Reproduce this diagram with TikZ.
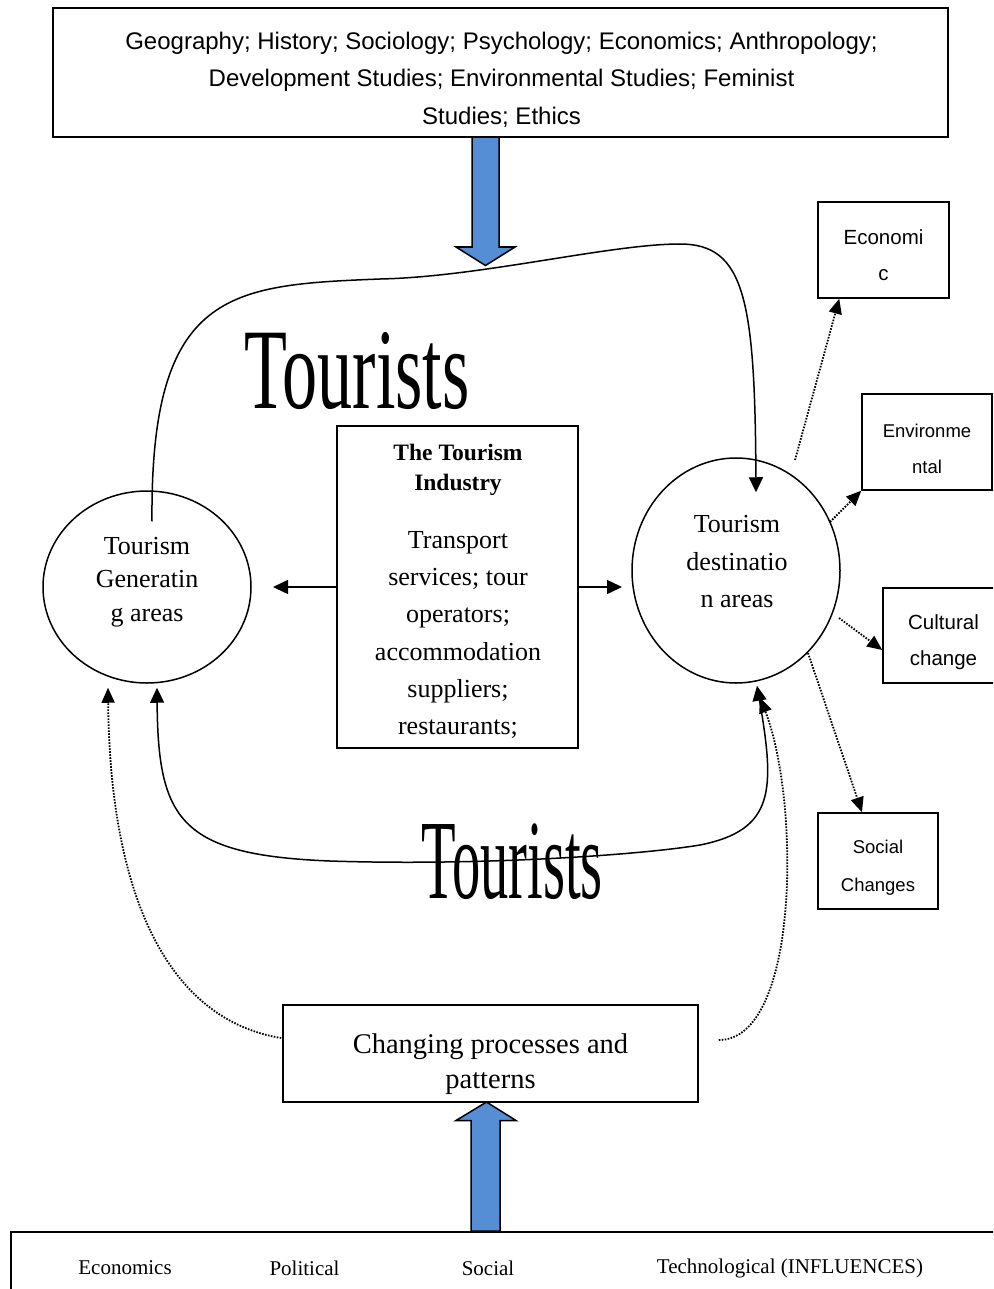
\documentclass[tikz,border=0pt]{standalone}
\usepackage{fontspec}
\setmainfont{Liberation Serif}
\newfontfamily\arialf{Liberation Sans}
\usetikzlibrary{arrows.meta,shapes.geometric,calc}
\definecolor{arrowblue}{RGB}{85,142,213}
\tikzset{
  box/.style={draw, line width=1.5pt, rectangle, inner sep=0pt},
  oval/.style={draw, ellipse, line width=1.5pt, inner sep=0pt},
  conn/.style={line width=1.5pt, -{Triangle[length=15pt,width=14pt]}},
  dconn/.style={line width=1.5pt, {Triangle[length=15pt,width=14pt]}-{Triangle[length=15pt,width=14pt]}},
  dotline/.style={line width=1.8pt, dash pattern=on 1.6pt off 1.4pt, -{Triangle[length=15pt,width=13pt]}},
  blockarrow/.style={fill=arrowblue, draw=black, line width=1.5pt, line join=miter},
  txt/.style={inner sep=0pt, align=center},
  sans/.style={txt, font=\arialf\fontsize{#1}{36}\selectfont},
}
\begin{document}
\begin{tikzpicture}[x=1pt,y=-1pt]
\useasboundingbox (0,0) rectangle (993,1289);
\clip (0,0) rectangle (993,1289);

% blue block arrows
\draw[blockarrow] (472,137) -- (472,247) -- (456,247) -- (485.5,265.5) -- (515,247) -- (499,247) -- (499,137) -- cycle;
\draw[blockarrow] (471,1231) -- (471,1120.5) -- (456,1120.5) -- (486.5,1102) -- (516,1120.5) -- (500,1120.5) -- (500,1231) -- cycle;

% top box
\node[box, line width=2.5pt, minimum width=895pt, minimum height=129pt] (top) at (500.5,72.5) {};
\node[txt, font=\arialf\fontsize{24}{37.5}\selectfont] (toptext) at (501.5,79.5)
  {Geography; History; Sociology; Psychology; Economics; Anthropology;\\Development Studies; Environmental Studies; Feminist\\Studies; Ethics};

% industry box
\node[box, minimum width=241pt, minimum height=322pt] (ind) at (457.5,587) {};
\node[txt, font=\bfseries\fontsize{23.5}{30}\selectfont] (indtitle) at (458,470) {The Tourism\\Industry};
\node[txt, font=\fontsize{26}{37.2}\selectfont] (indbody) at (458,635)
  {Transport\\services; tour\\operators;\\accommodation\\suppliers;\\restaurants;};

% circles
\node[oval, minimum width=208pt, minimum height=192pt] (gen) at (147,587) {};
\node[txt, font=\fontsize{26}{33.3}\selectfont] (gentext) at (147,582) {Tourism\\Generatin\\g areas};
\node[oval, minimum width=208pt, minimum height=225pt] (dest) at (736,570.5) {};
\node[txt, font=\fontsize{26}{37.5}\selectfont] (desttext) at (737,562) {Tourism\\destinatio\\n areas};

% Tourists labels
\node[inner sep=0pt, anchor=base, font=\fontsize{115}{115}\selectfont] (tour1) at (357,408) {\scalebox{0.61}[1]{Tourists}};
\node[inner sep=0pt, anchor=base, font=\fontsize{113}{113}\selectfont] (tour2) at (512,898) {\scalebox{0.5}[1]{Tourists}};

% right boxes
\node[box, minimum width=131pt, minimum height=96pt] (eco) at (883.5,250) {};
\node[sans=20.5] (ecotext) at (883.5,255) {Economi\\c};
\node[box, minimum width=130pt, minimum height=96pt] (env) at (927,442) {};
\node[sans=18.5] (envtext) at (927,449) {Environme\\ntal};
\node[box, minimum width=121pt, minimum height=95pt] (cult) at (943.5,635.5) {};
\node[sans=20.5] (culttext) at (943.5,642) {Cultural\\change};
\node[box, minimum width=120pt, minimum height=96pt] (soc) at (878,861) {};
\node[txt, font=\arialf\fontsize{18.5}{38}\selectfont] (soctext) at (878,868) {Social\\Changes};

% changing box
\node[box, minimum width=415pt, minimum height=97pt] (chg) at (490.5,1053.5) {};
\node[txt, font=\fontsize{28.5}{35}\selectfont] (chgtext) at (490.5,1064) {Changing processes and\\patterns};

% influences box
\node[box, line width=2pt, anchor=north west, minimum width=1000pt, minimum height=100pt] (infl) at (10,1231) {};
\node[txt, font=\fontsize{21}{25}\selectfont] (i1) at (125,1268) {Economics};
\node[txt, font=\fontsize{21}{25}\selectfont] (i2) at (304.5,1268) {Political};
\node[txt, font=\fontsize{21}{25}\selectfont] (i3) at (488,1268) {Social};
\node[txt, font=\fontsize{21}{25}\selectfont] (i4) at (790,1268) {Technological (INFLUENCES)};

% industry arrows
\coordinate (gtip) at (273,587);
\coordinate (dtip) at (622,587);
\draw[conn] (ind.west) -- (gtip);
\draw[conn] (ind.east) -- (dtip);

% tourists flows
\coordinate (ts) at ($(gen.north)+(5,31)$);
\coordinate (te) at ($(dest.north)+(20,35)$);
\draw[conn] (ts) .. controls (150,290) and (230,285) .. (380,279)
  .. controls (480,277) and (610,244) .. (680,244)
  .. controls (745,244) and (755,300) .. (te);
\coordinate (bs) at ($(gen.south)+(10,4)$);
\coordinate (be) at ($(dest.south)+(21,2)$);
\draw[dconn] (bs) .. controls (158,820) and (180,855) .. (330,861)
  .. controls (480,866) and (640,855) .. (700,845)
  .. controls (775,830) and (775,790) .. (be);

% changing processes dotted
\coordinate (cl) at ($(chg.west)+(-1,-15.5)$);
\coordinate (cr) at ($(chg.east)+(20,-13.5)$);
\coordinate (gdt) at ($(gen.south)+(-39,4)$);
\coordinate (ddt) at ($(dest.south)+(24,14)$);
\draw[dotline] (cl) .. controls (170,1020) and (110,900) .. (gdt);
\draw[dotline] (cr) .. controls (800,1040) and (800,800) .. (ddt);

% impacts dotted
\coordinate (s1) at (795,460);
\coordinate (s2) at (830,522);
\coordinate (s3) at (839,618);
\coordinate (s4) at (808,653);
\draw[dotline] (s1) -- ([xshift=22pt]eco.south west);
\draw[dotline] (s2) -- (env.south west);
\draw[dotline] (s3) -- ([yshift=-14.5pt]cult.west);
\draw[dotline] (s4) -- ([xshift=-16pt]soc.north);
\end{tikzpicture}
\end{document}
